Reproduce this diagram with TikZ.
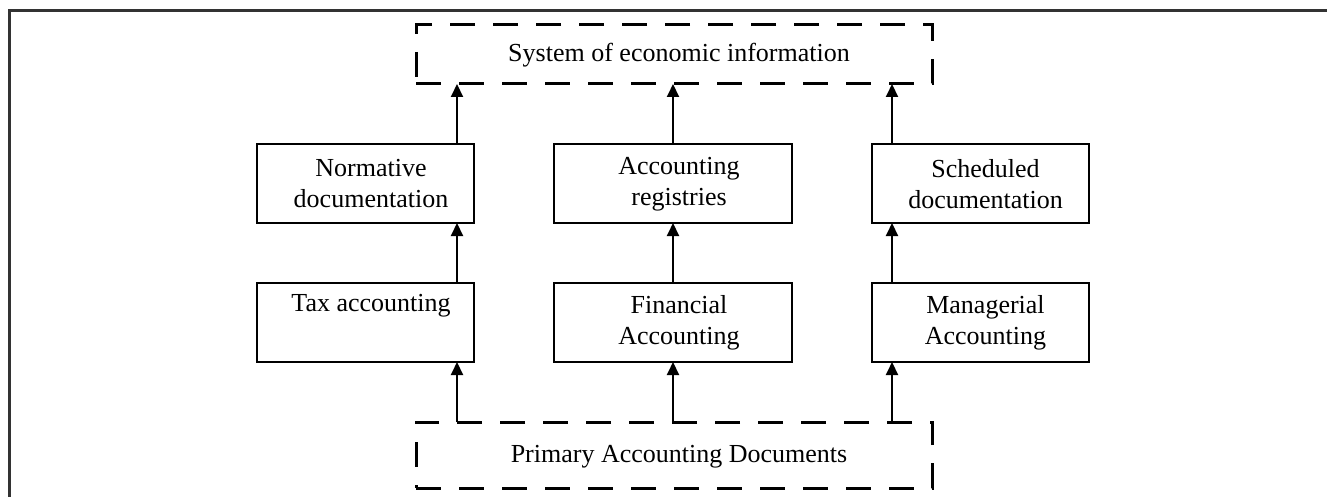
\documentclass[tikz,border=0pt]{standalone}
\usepackage{fontspec}
\setmainfont{Liberation Serif}
\usetikzlibrary{arrows.meta}
\begin{document}
\begin{tikzpicture}[x=1pt,y=-1pt,
  solidbox/.style={draw, line width=2pt, minimum width=217pt, minimum height=79pt, inner sep=0pt, outer sep=0pt},
  widebox/.style={solidbox, minimum width=238pt},
  dashbox/.style={draw, line width=3pt, dash pattern=on 25pt off 18pt, minimum width=516pt, inner sep=0pt, outer sep=0pt},
  lbl/.style={align=center, font=\fontsize{26}{31}\selectfont, inner sep=0pt},
  arr/.style={line width=2pt, -{Triangle[width=12pt,length=13pt]}}]
\useasboundingbox (0,0) rectangle (1327,497);
\draw[line width=3pt, black!80] (9,497) -- (9,11) -- (1327,11);
% dashed boxes
\node[dashbox, minimum height=59pt] (sys) at (674,54.5) {};
\node[lbl] at (679,55) {System of economic information};
\node[dashbox, minimum height=66pt] (prim) at (674,455) {};
\node[lbl] at (679,457) {Primary Accounting Documents};
% upper row
\node[solidbox] (norm) at (365.5,183.5) {};
\node[lbl] at (371,184) {Normative\\documentation};
\node[widebox] (reg) at (673,183.5) {};
\node[lbl] at (679,184) {Accounting\\registries};
\node[solidbox] (sched) at (980.5,183.5) {};
\node[lbl] at (985.5,184) {Scheduled\\documentation};
% lower row
\node[solidbox] (tax) at (365.5,322.5) {};
\node[lbl] at (371,323) {Tax accounting\\\strut};
\node[widebox] (fin) at (673,322.5) {};
\node[lbl] at (679,323) {Financial\\Accounting};
\node[solidbox] (man) at (980.5,322.5) {};
\node[lbl] at (985.5,323) {Managerial\\Accounting};
% arrow columns
\coordinate (c1) at ([xshift=-17pt]norm.north east);
\coordinate (c2) at (reg.north);
\coordinate (c3) at ([xshift=20pt]sched.north west);
\foreach \c in {c1,c2,c3}{
  \draw[arr] (\c |- prim.north) -- (\c |- tax.south);
  \draw[arr] (\c |- tax.north) -- (\c |- norm.south);
  \draw[arr] (\c |- norm.north) -- (\c |- sys.south);
}
\end{tikzpicture}
\end{document}
